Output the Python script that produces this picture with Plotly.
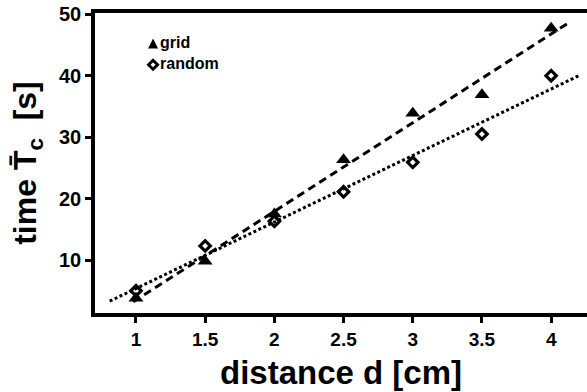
import plotly.graph_objects as go

# data
distance = [1, 1.5, 2, 2.5, 3, 3.5, 4]
grid_time = [3.8, 9.8, 17.5, 26.3, 33.9, 36.9, 47.7]
random_time = [5.0, 12.3, 16.3, 21.1, 25.9, 30.5, 40.0]

# fitted lines (end points)
grid_fit_x = [0.98, 4.14]
grid_fit_y = [3.2, 48.8]
random_fit_x = [0.81, 4.2]
random_fit_y = [3.3, 40.0]

x_ticks = [1, 1.5, 2, 2.5, 3, 3.5, 4]
x_tick_labels = ["1", "1.5", "2", "2.5", "3", "3.5", "4"]
y_ticks = [10, 20, 30, 40, 50]

series_names = ["grid", "random"]

FONT = "Liberation Sans, Arial, sans-serif"

fig = go.Figure()
fig.add_trace(go.Scatter(x=grid_fit_x, y=grid_fit_y, mode="lines",
                         line=dict(color="black", width=3, dash="8px,5px"),
                         showlegend=False, hoverinfo="skip"))
fig.add_trace(go.Scatter(x=random_fit_x, y=random_fit_y, mode="lines",
                         line=dict(color="black", width=3, dash="3px,2.5px"),
                         showlegend=False, hoverinfo="skip"))
fig.add_trace(go.Scatter(x=distance, y=grid_time, mode="markers", name=series_names[0],
                         showlegend=False,
                         marker=dict(symbol="triangle-up", size=13, color="black",
                                     line=dict(width=0))))
fig.add_trace(go.Scatter(x=distance, y=random_time, mode="markers", name=series_names[1],
                         showlegend=False,
                         marker=dict(symbol="diamond-open", size=8, color="black",
                                     line=dict(width=3.2, color="black"))))

# compact legend (symbol right next to the text, as in the original)
leg_x = 0.118
leg_mid = 0.862
leg_y = [leg_mid + 0.0345, leg_mid - 0.0345]
fig.add_shape(type="path", xref="paper", yref="paper", xsizemode="pixel",
              ysizemode="pixel", xanchor=leg_x, yanchor=leg_y[0],
              path="M -5,-4.5 L 5,-4.5 L 0,5.5 Z", fillcolor="black",
              line=dict(width=0))
fig.add_shape(type="path", xref="paper", yref="paper", xsizemode="pixel",
              ysizemode="pixel", xanchor=leg_x, yanchor=leg_y[1],
              path="M 0,4.5 L 4.5,0 L 0,-4.5 L -4.5,0 Z", fillcolor="white",
              line=dict(width=3, color="black"))
fig.add_annotation(x=leg_x, y=leg_mid, xref="paper", yref="paper",
                   text="<br>".join(series_names), align="left",
                   showarrow=False, xanchor="left", yanchor="middle", xshift=6,
                   yshift=1, borderpad=0,
                   font=dict(size=16, family=FONT, weight="bold", color="black"))

fig.update_layout(
    width=587, height=392,
    margin=dict(l=95, r=0, t=13, b=79),
    paper_bgcolor="white", plot_bgcolor="white",
    font=dict(family=FONT, color="black", size=17, weight="bold"),
    showlegend=False,
    xaxis=dict(range=[0.704, 4.259], tickmode="array", tickvals=x_ticks,
               ticktext=x_tick_labels, showgrid=False, zeroline=False,
               showline=True, linecolor="black", linewidth=3.5, mirror=True,
               ticks="outside", ticklen=6, tickwidth=3, tickcolor="black",
               tickfont=dict(size=19, family=FONT, weight="bold"),
               title=dict(text="distance d [cm]", standoff=13,
                          font=dict(size=33, family=FONT, weight="bold"))),
    yaxis=dict(range=[1.38, 50.2], tickmode="array", tickvals=y_ticks,
               showgrid=False, zeroline=False,
               showline=True, linecolor="black", linewidth=3.5, mirror=False,
               ticks="outside", ticklen=6, tickwidth=3, tickcolor="black",
               tickfont=dict(size=20, family=FONT, weight="bold"),
               title=dict(text="time T\u0304<sub>c</sub>  [s]", standoff=14,
                          font=dict(size=32, family=FONT, weight="bold"))),
)

fig.write_html("out.html")
